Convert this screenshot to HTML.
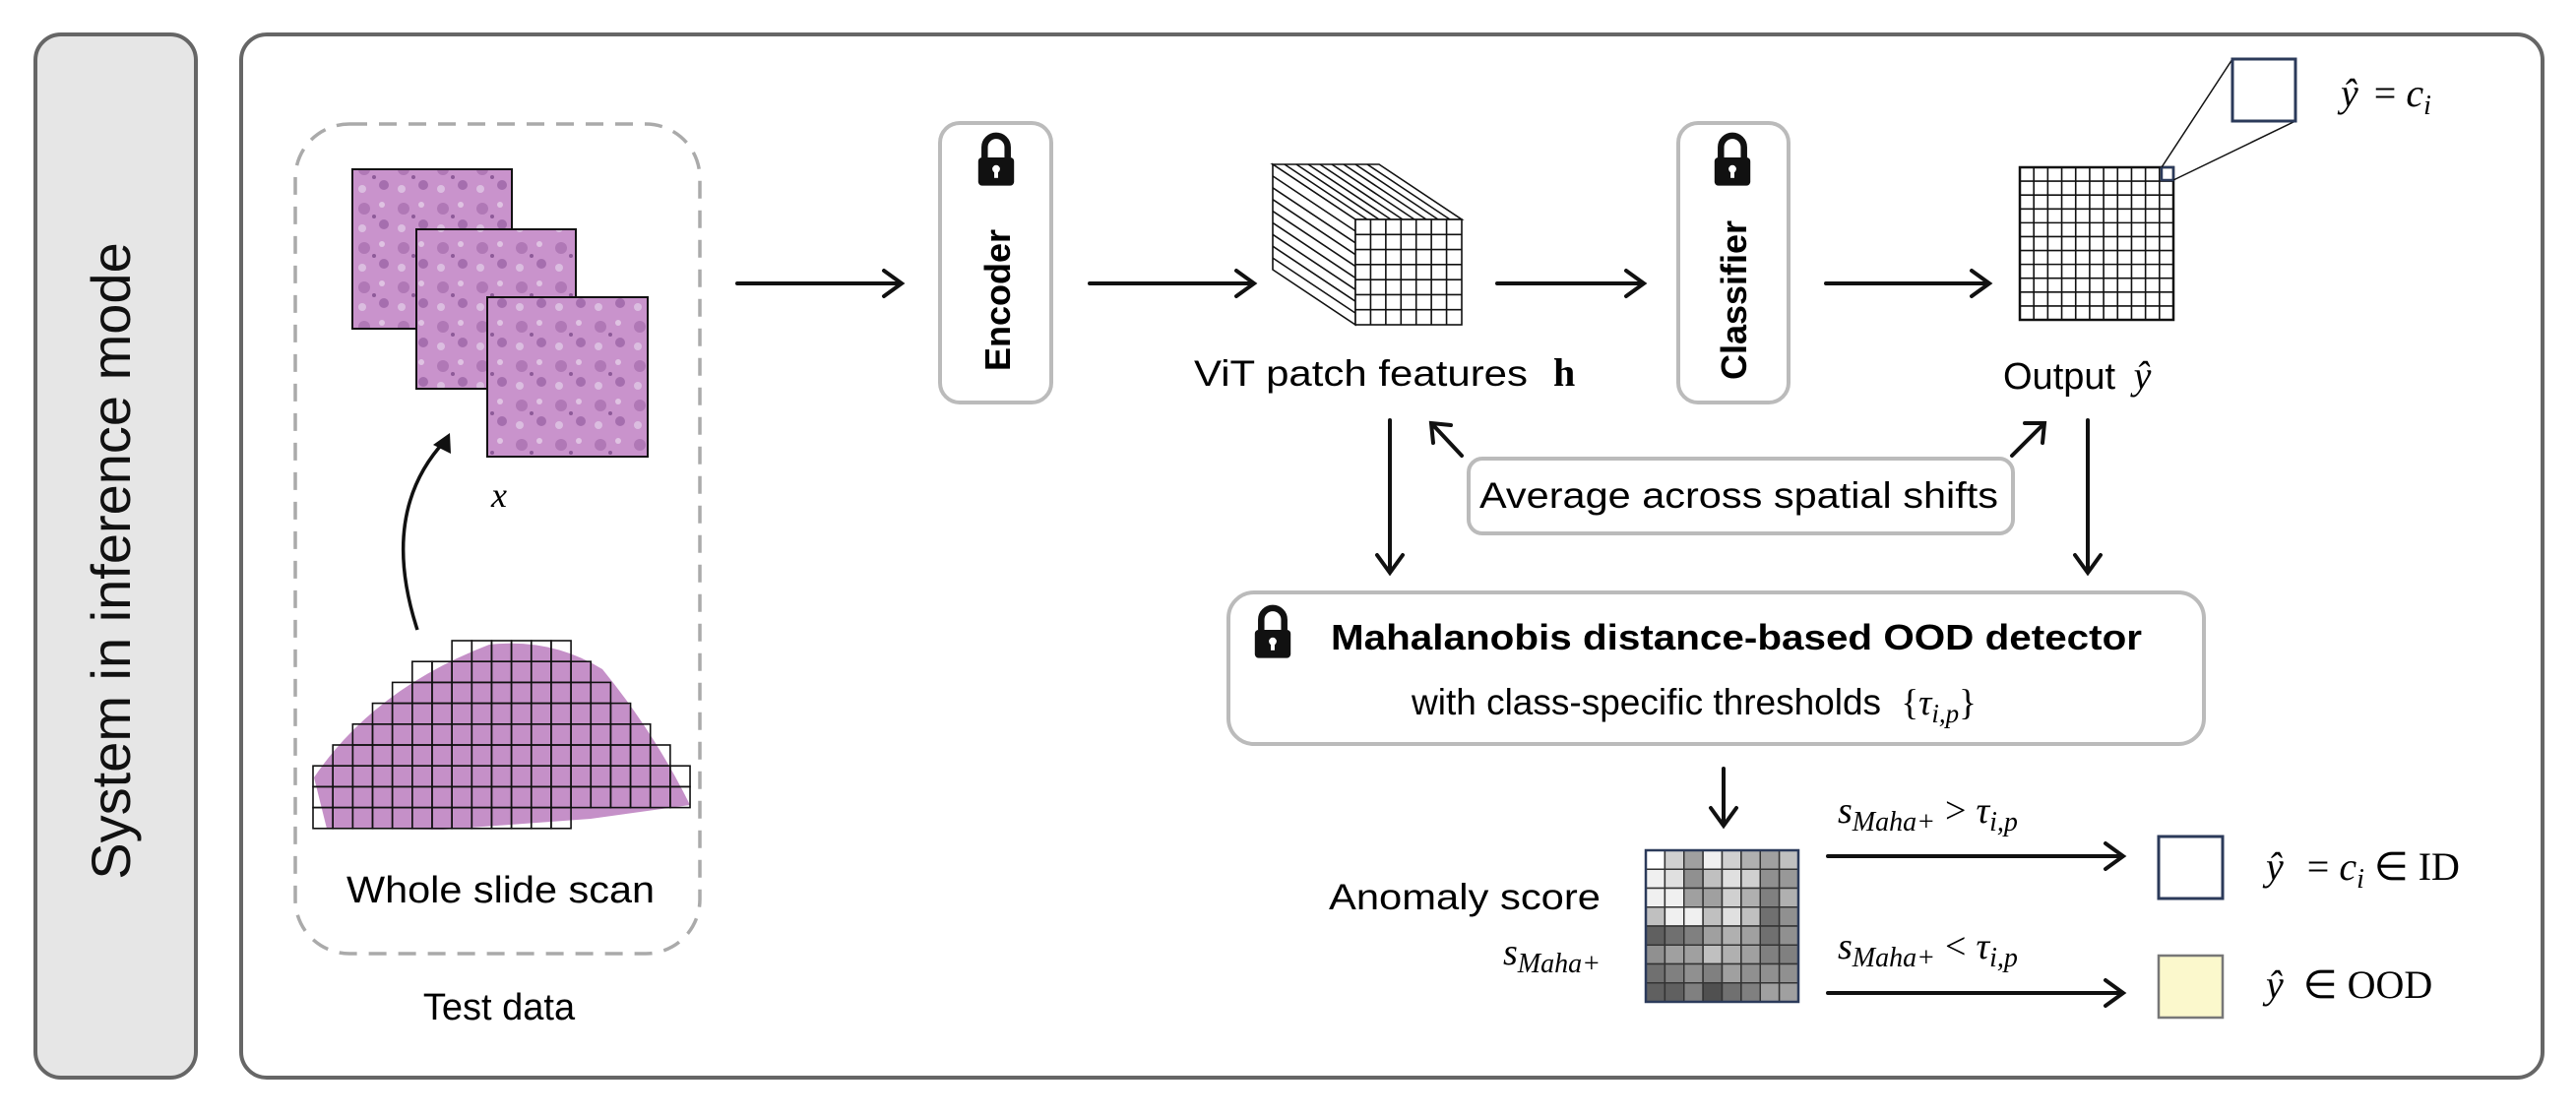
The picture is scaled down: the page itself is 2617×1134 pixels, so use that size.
<!DOCTYPE html>
<html><head><meta charset="utf-8"><style>
body{margin:0;background:#fff}
svg{display:block}
text{font-family:"Liberation Sans",sans-serif}
.m{font-family:"Liberation Serif",serif;font-style:italic}
.r{font-family:"Liberation Serif",serif}
</style></head><body>
<svg id="s" width="2617" height="1134" viewBox="0 0 2617 1134" xmlns="http://www.w3.org/2000/svg">
<defs>
<pattern id="tis" width="40" height="40" patternUnits="userSpaceOnUse">
<rect width="40" height="40" fill="#c993cc"/>
<circle cx="10" cy="12" r="6" fill="#b078b6"/><circle cx="30" cy="28" r="5" fill="#a56eae"/>
<circle cx="28" cy="8" r="3" fill="#dfc3e2"/><circle cx="8" cy="32" r="4" fill="#dbbde0"/>
<circle cx="20" cy="20" r="2" fill="#8d5a98"/>
</pattern>
</defs>
<rect x="36" y="35" width="163" height="1060" rx="26" fill="#e6e6e6" stroke="#666" stroke-width="4"/>
<text transform="translate(132,570) rotate(-90)" text-anchor="middle" font-size="56" fill="#111">System in inference mode</text>
<rect x="245" y="35" width="2338" height="1060" rx="26" fill="#fff" stroke="#666" stroke-width="4"/>
<rect x="300" y="126" width="411" height="843" rx="55" fill="none" stroke="#aaa" stroke-width="3.5" stroke-dasharray="18,12"/>
<rect x="358" y="172" width="162" height="162" fill="url(#tis)" stroke="#111" stroke-width="2"/>
<rect x="423" y="233" width="162" height="162" fill="url(#tis)" stroke="#111" stroke-width="2"/>
<rect x="495" y="302" width="163" height="162" fill="url(#tis)" stroke="#111" stroke-width="2"/>
<text x="507" y="515" class="m" font-size="36" text-anchor="middle">x</text>
<path d="M424 640 Q385 520 452 448" fill="none" stroke="#111" stroke-width="3.5"/>
<path d="M440 452 L457 440 L458 461 Z" fill="#111"/>
<path d="M332 842 L319 790 Q380 700 497 655 Q560 648 612 680 Q665 745 701 818 L600 832 L450 843 Z" fill="#c590c8"/>
<g id="slidegrid" fill="none" stroke="#111" stroke-width="1.6"></g>
<text x="352" y="917" font-size="38" textLength="313" lengthAdjust="spacingAndGlyphs">Whole slide scan</text>
<text x="507" y="1036" text-anchor="middle" font-size="38">Test data</text>
<g stroke="#111" stroke-width="4" fill="none" stroke-linecap="round">
<path d="M749 288H914M898 275L916 288L898 301"/>
<path d="M1107 288H1272M1256 275L1274 288L1256 301"/>
<path d="M1521 288H1668M1652 275L1670 288L1652 301"/>
<path d="M1855 288H2019M2003 275L2021 288L2003 301"/>
<path d="M1412 427V580M1399 564L1412 582L1425 564"/>
<path d="M2121 427V580M2108 564L2121 582L2134 564"/>
<path d="M1485 463L1456 432M1456 450L1454 430L1474 432"/>
<path d="M2044 463L2075 432M2057 430L2077 430L2075 450"/>
<path d="M1751 781V837M1738 821L1751 839L1764 821"/>
<path d="M1857 870H2155M2139 857L2157 870L2139 883"/>
<path d="M1857 1009H2155M2139 996L2157 1009L2139 1022"/>
</g>
<rect x="955" y="125" width="113" height="284" rx="20" fill="#fff" stroke="#bbb" stroke-width="4"/>
<text transform="translate(1026,305) rotate(-90)" text-anchor="middle" font-size="36" font-weight="bold">Encoder</text>
<rect x="1705" y="125" width="112" height="284" rx="20" fill="#fff" stroke="#bbb" stroke-width="4"/>
<text transform="translate(1774,305) rotate(-90)" text-anchor="middle" font-size="36" font-weight="bold">Classifier</text>
<g id="cube" fill="none" stroke="#111" stroke-width="1.6"></g>
<text x="1213" y="392" font-size="37" textLength="339" lengthAdjust="spacingAndGlyphs">ViT patch features</text>
<text x="1578" y="392" class="r" font-size="40" font-weight="bold">h</text>
<g id="outg" fill="none" stroke="#111" stroke-width="1.6"></g>
<rect x="2196" y="170" width="12" height="13" fill="none" stroke="#2b3a5a" stroke-width="2.5"/>
<line x1="2196" y1="170" x2="2268" y2="60" stroke="#111" stroke-width="1.5"/>
<line x1="2208" y1="183" x2="2332" y2="123" stroke="#111" stroke-width="1.5"/>
<rect x="2268" y="60" width="64" height="63" fill="#fff" stroke="#2b3a5a" stroke-width="3"/>
<text x="2378" y="108" class="m" font-size="40">ŷ <tspan class="r" font-style="normal" dx="6">=</tspan> c<tspan font-size="28" dy="8">i</tspan></text>
<text x="2035" y="395" font-size="38">Output <tspan class="m" font-size="40" dx="8">ŷ</tspan></text>
<rect x="1492" y="466" width="553" height="76" rx="14" fill="#fff" stroke="#bbb" stroke-width="4"/>
<text x="1503" y="516" font-size="37" textLength="527" lengthAdjust="spacingAndGlyphs">Average across spatial shifts</text>
<rect x="1248" y="602" width="991" height="154" rx="26" fill="#fff" stroke="#bbb" stroke-width="4"/>
<text x="1352" y="660" font-size="36" font-weight="bold" textLength="824" lengthAdjust="spacingAndGlyphs">Mahalanobis distance-based OOD detector</text>
<text x="1434" y="726" font-size="37">with class-specific thresholds <tspan class="r" dx="10">{</tspan><tspan class="m">τ</tspan><tspan class="m" font-size="27" dy="8">i,p</tspan><tspan class="r" dy="-8">}</tspan></text>
<g id="anom"></g>
<text x="1350" y="924" font-size="37" textLength="276" lengthAdjust="spacingAndGlyphs">Anomaly score</text>
<text x="1626" y="980" text-anchor="end" class="m" font-size="38">s<tspan font-size="28" dy="8">Maha+</tspan></text>
<text x="1867" y="836" class="m" font-size="38">s<tspan font-size="28" dy="8">Maha+</tspan><tspan class="r" font-style="normal" font-size="38" dy="-8" dx="10">&gt;</tspan><tspan dx="10">τ</tspan><tspan font-size="28" dy="8">i,p</tspan></text>
<text x="1867" y="974" class="m" font-size="38">s<tspan font-size="28" dy="8">Maha+</tspan><tspan class="r" font-style="normal" font-size="38" dy="-8" dx="10">&lt;</tspan><tspan dx="10">τ</tspan><tspan font-size="28" dy="8">i,p</tspan></text>
<rect x="2193" y="850" width="65" height="63" fill="#fff" stroke="#2b3a5a" stroke-width="3"/>
<rect x="2193" y="971" width="65" height="63" fill="#fbf8cc" stroke="#777" stroke-width="2.5"/>
<text x="2302" y="894" class="m" font-size="40">ŷ <tspan class="r" font-style="normal" dx="14">=</tspan> c<tspan font-size="28" dy="8">i</tspan><tspan class="r" font-style="normal" dy="-8"> ∈ ID</tspan></text>
<text x="2302" y="1014" class="m" font-size="40">ŷ <tspan class="r" font-style="normal" dx="10">∈ OOD</tspan></text>
</svg>
<script>
var NS="http://www.w3.org/2000/svg";
function el(p,t,a){var e=document.createElementNS(NS,t);for(var k in a)e.setAttribute(k,a[k]);p.appendChild(e);return e;}
var s=document.getElementById('s');
var sg=document.getElementById('slidegrid');
var rows=[[7,12],[5,13],[4,14],[3,15],[2,16],[1,17],[0,18],[0,18],[0,12]];
var cw=20.16,ch=21.2;
rows.forEach(function(r,i){for(var c=r[0];c<=r[1];c++)el(sg,'rect',{x:318+c*cw,y:651+i*ch,width:cw,height:ch});});
function lock(cx,cy,sc){var g=el(s,'g',{});
el(g,'path',{d:'M'+(cx-9*sc)+' '+(cy)+'V'+(cy-8*sc)+'A'+(9*sc)+' '+(9*sc)+' 0 0 1 '+(cx+9*sc)+' '+(cy-8*sc)+'V'+cy,fill:'none',stroke:'#111','stroke-width':5*sc});
el(g,'rect',{x:cx-14*sc,y:cy,width:28*sc,height:22*sc,rx:3*sc,fill:'#111'});
el(g,'circle',{cx:cx,cy:cy+9*sc,r:3*sc,fill:'#fff'});
el(g,'rect',{x:cx-1.5*sc,y:cy+9*sc,width:3*sc,height:7*sc,fill:'#fff'});}
lock(1012,160,1.3);lock(1760,160,1.3);lock(1293,640,1.3);
var cb=document.getElementById('cube');
var fx=1377,fy=223,fw=108,fh=107,dx=-84,dy=-56,n=7;
el(cb,'path',{d:'M'+fx+' '+fy+'L'+(fx+dx)+' '+(fy+dy)+'L'+(fx+fw+dx)+' '+(fy+dy)+'L'+(fx+fw)+' '+fy+'Z',fill:'#fff'});
el(cb,'path',{d:'M'+fx+' '+fy+'L'+(fx+dx)+' '+(fy+dy)+'L'+(fx+dx)+' '+(fy+fh+dy)+'L'+fx+' '+(fy+fh)+'Z',fill:'#fff'});
var L=9;
for(var k=1;k<L;k++){var t=k/L;
el(cb,'path',{d:'M'+(fx+fw*t)+' '+fy+'l'+dx+' '+dy});
el(cb,'path',{d:'M'+fx+' '+(fy+fh*t)+'l'+dx+' '+dy});}
el(cb,'rect',{x:fx,y:fy,width:fw,height:fh,fill:'#fff'});
for(var i=1;i<n;i++){el(cb,'path',{d:'M'+(fx+fw*i/n)+' '+fy+'V'+(fy+fh)});el(cb,'path',{d:'M'+fx+' '+(fy+fh*i/n)+'H'+(fx+fw)});}
var og=document.getElementById('outg');var gx=2052,gy=170,gw=156,gh=155,m=11;
el(og,'rect',{x:gx,y:gy,width:gw,height:gh,'stroke-width':2.5});
for(var i=1;i<m;i++){el(og,'path',{d:'M'+(gx+gw*i/m)+' '+gy+'V'+(gy+gh)});el(og,'path',{d:'M'+gx+' '+(gy+gh*i/m)+'H'+(gx+gw)});}
var an=document.getElementById('anom');
var v=[
"ffd0a0f0d0b0a0c0","f0e090c0e0d09098","f0f0a0a0d0b080b0","c0f0f0c0e0c07090",
"607080a0b0a07090","90a0a0c0b0a08080","70809080a0909090","606080507080a0a0"];
var ax=1672,ay=864,aw=155/8,ah=154/8;
for(var r=0;r<8;r++)for(var c=0;c<8;c++){var h=v[r].substr(c*2,2);
el(an,'rect',{x:ax+c*aw,y:ay+r*ah,width:aw,height:ah,fill:'#'+h+h+h,stroke:'#333','stroke-width':1.5});}
el(an,'rect',{x:ax,y:ay,width:155,height:154,fill:'none',stroke:'#2b3a5a','stroke-width':2.5});
</script>
</body></html>
